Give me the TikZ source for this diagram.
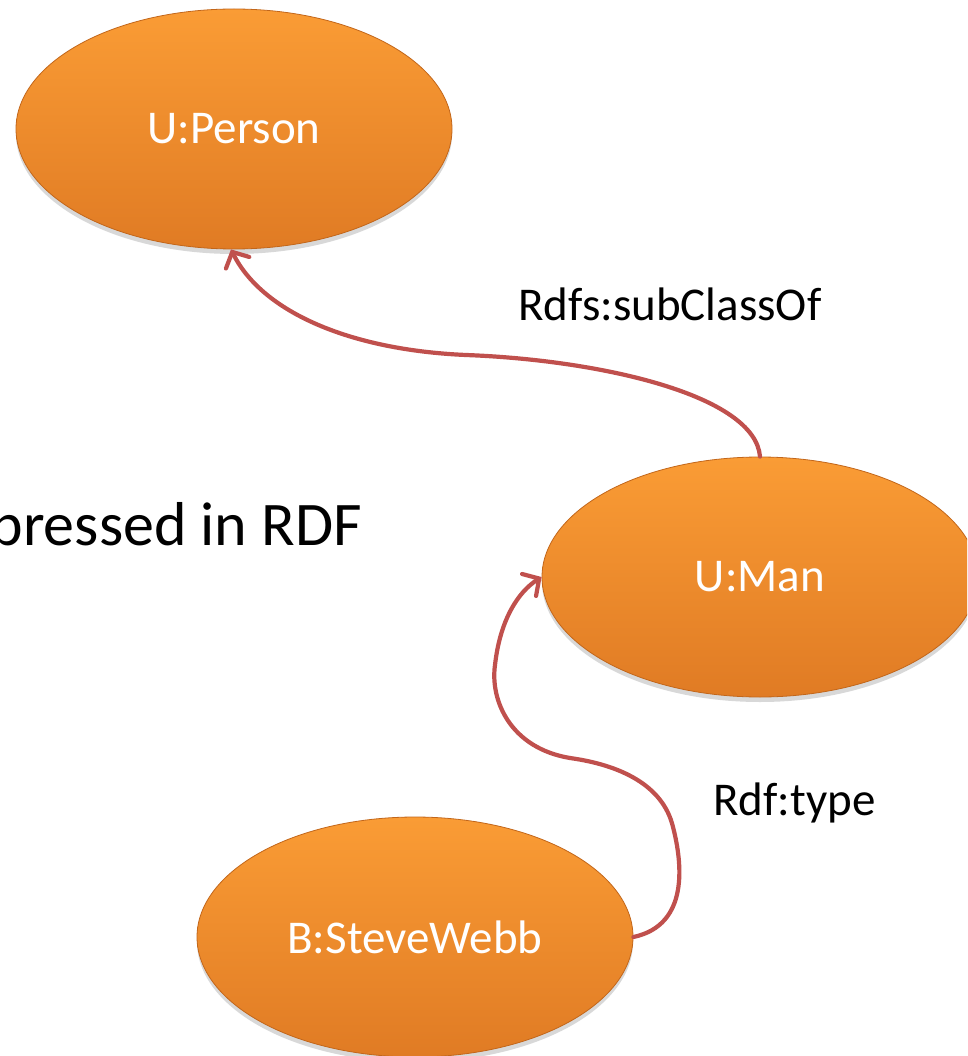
\documentclass[tikz,border=0pt]{standalone}
\usepackage{fontspec}
\setmainfont{Carlito}
\usetikzlibrary{shapes.geometric,arrows.meta,shadows}

\definecolor{nodetop}{HTML}{FA9C35}
\definecolor{nodebot}{HTML}{E07B24}
\definecolor{noderim}{HTML}{C2661A}
\definecolor{linkred}{HTML}{C0504D}

\tikzset{
  classnode/.style={ellipse, inner sep=0pt, minimum width=436pt, minimum height=240pt,
    top color=nodetop, bottom color=nodebot, draw=noderim, line width=0.8pt,
    drop shadow={shadow xshift=0pt, shadow yshift=-5pt, opacity=0.25, fill=black!60},
    text=white, font=\fontsize{47}{56}\selectfont},
  link/.style={draw=linkred, line width=4.2pt, line cap=round,
    -{Straight Barb[length=12pt,width=26pt,line cap=round]}},
  linklabel/.style={anchor=base west, inner sep=0pt, font=\fontsize{47}{56}\selectfont},
}

\begin{document}
\begin{tikzpicture}[x=1pt,y=-1pt]
  \useasboundingbox (0,0) rectangle (967,1056);
  \clip (0,0) rectangle (967,1056);
  \fill[white] (0,0) rectangle (967,1056);

  % heading fragment on the left
  \node[anchor=base east, inner sep=0pt, font=\fontsize{62}{74}\selectfont] (head) at (362,545) {pressed in RDF};

  % classes and the individual
  \node[classnode] (person) at (234,129) {U:Person};
  \node[classnode] (man) at (760,577) {U:Man};
  \node[classnode] (steve) at (415,937) {B:SteveWebb};

  % relations
  \draw[link] (man.north) .. controls (755,395) and (600,360) .. (466,355)
    .. controls (350,350) and (262,312) .. ([xshift=-3pt]person.south);
  \draw[link] (steve.east) .. controls (690,925) and (682,862) .. (673,827)
    .. controls (663,785) and (620,765) .. (570,758)
    .. controls (510,748) and (490,700) .. (495,665)
    .. controls (500,620) and (518,592) .. (man.west);

  \node[linklabel] (lsub) at (518,320) {Rdfs:subClassOf};
  \node[linklabel] (ltype) at (713,815) {Rdf:type};
\end{tikzpicture}
\end{document}
